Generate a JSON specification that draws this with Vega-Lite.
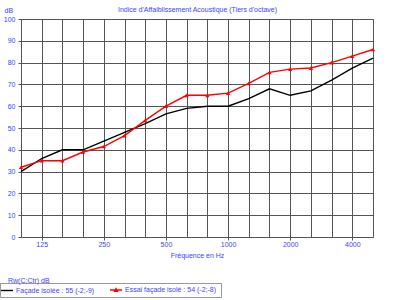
{
  "$schema": "https://vega.github.io/schema/vega-lite/v6.json",
  "width": 352,
  "height": 218,
  "autosize": {"type": "none"},
  "padding": {"left": 21, "top": 19, "right": 21, "bottom": 63},
  "background": "white",
  "title": {
    "text": "Rw(C;Ctr)  dB",
    "orient": "bottom",
    "anchor": "start",
    "frame": "group",
    "dx": -13,
    "offset": -21,
    "fontSize": 7,
    "fontWeight": "normal",
    "font": "Liberation Sans",
    "color": "#4040ff"
  },
  "data": {
    "values": [
      {"freq": 100, "serie": "Façade isolée :  55 (-2;-9)", "db": 30},
      {"freq": 125, "serie": "Façade isolée :  55 (-2;-9)", "db": 36},
      {"freq": 160, "serie": "Façade isolée :  55 (-2;-9)", "db": 40},
      {"freq": 200, "serie": "Façade isolée :  55 (-2;-9)", "db": 40},
      {"freq": 250, "serie": "Façade isolée :  55 (-2;-9)", "db": 44},
      {"freq": 315, "serie": "Façade isolée :  55 (-2;-9)", "db": 48},
      {"freq": 400, "serie": "Façade isolée :  55 (-2;-9)", "db": 52},
      {"freq": 500, "serie": "Façade isolée :  55 (-2;-9)", "db": 56.5},
      {"freq": 630, "serie": "Façade isolée :  55 (-2;-9)", "db": 59},
      {"freq": 800, "serie": "Façade isolée :  55 (-2;-9)", "db": 60},
      {"freq": 1000, "serie": "Façade isolée :  55 (-2;-9)", "db": 60},
      {"freq": 1250, "serie": "Façade isolée :  55 (-2;-9)", "db": 63.5},
      {"freq": 1600, "serie": "Façade isolée :  55 (-2;-9)", "db": 68},
      {"freq": 2000, "serie": "Façade isolée :  55 (-2;-9)", "db": 65},
      {"freq": 2500, "serie": "Façade isolée :  55 (-2;-9)", "db": 67},
      {"freq": 3150, "serie": "Façade isolée :  55 (-2;-9)", "db": 72},
      {"freq": 4000, "serie": "Façade isolée :  55 (-2;-9)", "db": 77.5},
      {"freq": 5000, "serie": "Façade isolée :  55 (-2;-9)", "db": 82},
      {"freq": 100, "serie": "Essai façade isolé :  54 (-2;-8)", "db": 32},
      {"freq": 125, "serie": "Essai façade isolé :  54 (-2;-8)", "db": 35},
      {"freq": 160, "serie": "Essai façade isolé :  54 (-2;-8)", "db": 35},
      {"freq": 200, "serie": "Essai façade isolé :  54 (-2;-8)", "db": 39},
      {"freq": 250, "serie": "Essai façade isolé :  54 (-2;-8)", "db": 41.5},
      {"freq": 315, "serie": "Essai façade isolé :  54 (-2;-8)", "db": 46.5},
      {"freq": 400, "serie": "Essai façade isolé :  54 (-2;-8)", "db": 53.5},
      {"freq": 500, "serie": "Essai façade isolé :  54 (-2;-8)", "db": 60},
      {"freq": 630, "serie": "Essai façade isolé :  54 (-2;-8)", "db": 65},
      {"freq": 800, "serie": "Essai façade isolé :  54 (-2;-8)", "db": 65},
      {"freq": 1000, "serie": "Essai façade isolé :  54 (-2;-8)", "db": 66},
      {"freq": 1250, "serie": "Essai façade isolé :  54 (-2;-8)", "db": 70.5},
      {"freq": 1600, "serie": "Essai façade isolé :  54 (-2;-8)", "db": 75.5},
      {"freq": 2000, "serie": "Essai façade isolé :  54 (-2;-8)", "db": 77},
      {"freq": 2500, "serie": "Essai façade isolé :  54 (-2;-8)", "db": 77.5},
      {"freq": 3150, "serie": "Essai façade isolé :  54 (-2;-8)", "db": 80},
      {"freq": 4000, "serie": "Essai façade isolé :  54 (-2;-8)", "db": 83},
      {"freq": 5000, "serie": "Essai façade isolé :  54 (-2;-8)", "db": 86}
    ]
  },
  "layer": [
    {
      "mark": {"type": "line", "strokeWidth": 1.4},
      "encoding": {
        "x": {
          "field": "freq",
          "type": "ordinal",
          "scale": {"type": "point", "padding": 0},
          "axis": {
            "title": "Fréquence en Hz",
            "titleY": 18,
            "titleBaseline": "middle",
            "labelAngle": 0,
            "labelExpr": "(datum.value == 125 || datum.value == 250 || datum.value == 500 || datum.value == 1000 || datum.value == 2000 || datum.value == 4000) ? datum.label : ''",
            "labelOverlap": false,
            "labelPadding": 0,
            "tickSize": 3,
            "tickColor": "#555",
            "tickOpacity": {"condition": {"test": "datum.value == 125 || datum.value == 250 || datum.value == 500 || datum.value == 1000 || datum.value == 2000 || datum.value == 4000", "value": 1}, "value": 0},
            "domain": false,
            "grid": true
          }
        },
        "y": {
          "field": "db",
          "type": "quantitative",
          "scale": {"domain": [0, 100], "nice": false},
          "axis": {
            "title": "dB",
            "titleAngle": 0,
            "titleX": -17,
            "titleY": -9,
            "titleAlign": "left",
            "titleBaseline": "middle",
            "values": [0, 10, 20, 30, 40, 50, 60, 70, 80, 90, 100],
            "labelOverlap": false,
            "tickSize": 3,
            "tickColor": "#555",
            "labelPadding": 3,
            "domain": false,
            "grid": true
          }
        },
        "color": {
          "field": "serie",
          "type": "nominal",
          "scale": {
            "domain": ["Façade isolée :  55 (-2;-9)", "Essai façade isolé :  54 (-2;-8)"],
            "range": ["#000000", "#ff0000"]
          },
          "legend": {
            "title": null,
            "orient": "none",
            "legendX": -21,
            "legendY": 264,
            "direction": "horizontal",
            "columns": 2,
            "columnPadding": 10,
            "strokeColor": "#999",
            "padding": 3,
            "symbolType": "M-2,0H2",
            "symbolSize": 36,
            "symbolStrokeWidth": 1.4,
            "labelFontSize": 7,
            "labelFont": "Liberation Sans",
            "labelColor": "#4040ff",
            "labelOffset": 5,
            "encode": {
              "legend": {
                "update": {"width": {"value": 390}}
              },
              "symbols": {
                "update": {
                  "shape": {"signal": "datum.value === 'Façade isolée :  55 (-2;-9)' ? 'M-2,0H2' : 'M-2,0H2M-0.45,0.4L0,-0.45L0.45,0.4Z'"},
                  "fill": {"signal": "datum.value === 'Façade isolée :  55 (-2;-9)' ? 'transparent' : '#ff0000'"}
                }
              }
            }
          }
        }
      }
    },
    {
      "transform": [{"filter": "datum.serie !== 'Façade isolée :  55 (-2;-9)'"}],
      "mark": {"type": "point", "shape": "triangle-up", "filled": true, "size": 18, "color": "#ff0000", "opacity": 1},
      "encoding": {
        "x": {
          "field": "freq",
          "type": "ordinal",
          "axis": {
            "orient": "top",
            "title": "Indice d'Affaiblissement Acoustique (Tiers d'octave)",
            "titlePadding": 7,
            "labels": false,
            "ticks": false,
            "domain": false,
            "grid": false
          }
        },
        "y": {
          "field": "db",
          "type": "quantitative",
          "axis": {
            "title": "dB",
            "titleAngle": 0,
            "titleX": -17,
            "titleY": -9,
            "titleAlign": "left",
            "titleBaseline": "middle",
            "values": [0, 10, 20, 30, 40, 50, 60, 70, 80, 90, 100],
            "labelOverlap": false,
            "tickSize": 3,
            "tickColor": "#555",
            "labelPadding": 3,
            "domain": false,
            "grid": true
          }
        }
      }
    }
  ],
  "resolve": {"axis": {"x": "independent"}},
  "config": {
    "font": "Liberation Sans",
    "view": {"stroke": "#888"},
    "axis": {
      "labelFontSize": 7,
      "labelColor": "#4040ff",
      "labelFont": "Liberation Sans",
      "titleFontSize": 7,
      "titleFontWeight": "normal",
      "titleColor": "#4040ff",
      "titleFont": "Liberation Sans",
      "gridColor": "#555",
      "gridWidth": 1
    }
  }
}
